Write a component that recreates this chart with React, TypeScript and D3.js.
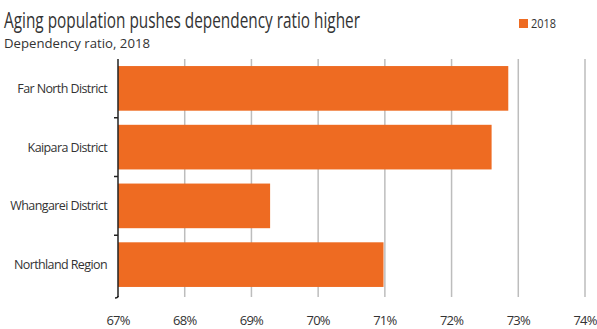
import React from "react";
import * as d3 from "d3";

const categories = ["Far North District", "Kaipara District", "Whangarei District", "Northland Region"];
const values2018 = [72.85, 72.6, 69.28, 70.98];
const xTicks = [67, 68, 69, 70, 71, 72, 73, 74];
const seriesName = "2018";

const W = 597;
const H = 329;
const FONT = "'Open Sans', 'Noto Sans', sans-serif";
const ORANGE = "#EE6B22";

export default function App() {
  const x = d3.scaleLinear().domain([67, 74]).range([118, 585]);
  const y = d3.scaleBand().domain(categories).range([59, 294]).paddingInner(0.24).paddingOuter(0.12);
  const boundaries = categories.slice(1).map((c) => (y(c) as number) - (y.step() * y.paddingInner()) / 2);
  return (
    <svg width={W} height={H} style={{ position: "absolute", left: 0, top: 0, background: "#fff" }}>
      <text x={4} y={28} fontFamily={FONT} fontSize={21.5} fill="#333" textLength={356} lengthAdjust="spacingAndGlyphs">
        Aging population pushes dependency ratio higher
      </text>
      <text x={4} y={48} fontFamily={FONT} fontSize={13.5} fill="#333" textLength={146} lengthAdjust="spacingAndGlyphs">
        Dependency ratio, 2018
      </text>
      <rect x={519} y={19} width={9} height={9} fill={ORANGE} />
      <text x={531} y={28} fontFamily={FONT} fontSize={12} fill="#333" textLength={25} lengthAdjust="spacingAndGlyphs">
        {seriesName}
      </text>
      {xTicks.slice(1).map((t) => (
        <line key={t} x1={x(t)} x2={x(t)} y1={59} y2={297} stroke="#bdbdbd" strokeWidth={1.5} />
      ))}
      {categories.map((c, i) => (
        <rect key={c} x={x(67)} y={y(c)} width={x(values2018[i]) - x(67)} height={y.bandwidth()} fill={ORANGE} />
      ))}
      <line x1={118} x2={118} y1={59} y2={297} stroke="#222" strokeWidth={1.5} />
      <path d="M118,296 Q118,298 115,298" fill="none" stroke="#222" strokeWidth={1.5} />
      {boundaries.map((b, i) => (
        <line key={i} x1={114} x2={118} y1={b} y2={b} stroke="#222" strokeWidth={1.5} />
      ))}
      {categories.map((c) => (
        <text
          key={c}
          x={107}
          y={(y(c) as number) + y.bandwidth() / 2 + 4.5}
          textAnchor="end"
          fontFamily={FONT}
          fontSize={12.5}
          fill="#333"
          letterSpacing={-0.6}
        >
          {c}
        </text>
      ))}
      {xTicks.map((t) => (
        <text key={t} x={x(t)} y={325} textAnchor="middle" fontFamily={FONT} fontSize={13} fill="#333" letterSpacing={-0.8}>
          {t}%
        </text>
      ))}
    </svg>
  );
}
